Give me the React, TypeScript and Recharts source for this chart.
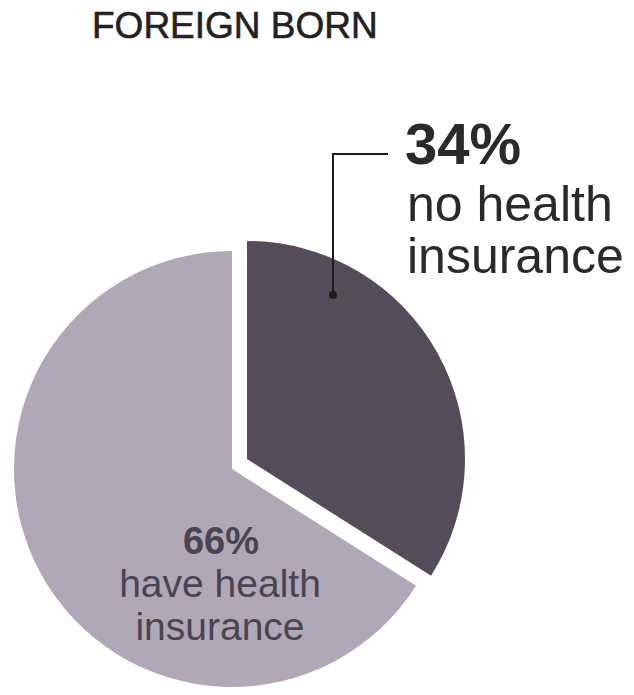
import { PieChart, Pie, Cell } from 'recharts';

// share of foreign born residents by health insurance status
const categories = ['no health insurance', 'have health insurance'];
const shares = [34, 66];
const sliceColors = ['#554c5a', '#b0a8b6'];

const data = categories.map((name, i) => ({ name, value: shares[i] }));

const FONT = '"Liberation Sans", Arial, sans-serif';

export default function App() {
  return (
    <div style={{ position: 'absolute', left: 0, top: 0, width: 634, height: 695, background: '#fff' }}>
      <PieChart width={634} height={695} margin={{ top: 0, right: 0, bottom: 0, left: 0 }}>
        {/* light slice, stays in place */}
        <Pie
          data={data}
          dataKey="value"
          cx={232}
          cy={469}
          outerRadius={218}
          startAngle={90}
          endAngle={-270}
          stroke="none"
          isAnimationActive={false}
        >
          {data.map((d, i) => (
            <Cell key={d.name} fill={i === 1 ? sliceColors[1] : 'transparent'} />
          ))}
        </Pie>
        {/* dark slice, pulled out */}
        <Pie
          data={data}
          dataKey="value"
          cx={247}
          cy={459}
          outerRadius={218}
          startAngle={90}
          endAngle={-270}
          stroke="none"
          isAnimationActive={false}
        >
          {data.map((d, i) => (
            <Cell key={d.name} fill={i === 0 ? sliceColors[0] : 'transparent'} />
          ))}
        </Pie>
      </PieChart>

      {/* annotations sit above the pie */}
      <svg
        width={634}
        height={695}
        style={{ position: 'absolute', left: 0, top: 0, pointerEvents: 'none' }}
      >
        <text x={92} y={38} fontFamily={FONT} fontSize={37} fill="#222" stroke="#222" strokeWidth={0.6}>
          FOREIGN BORN
        </text>

        <path d="M 388 154 H 333 V 295" stroke="#1e1e1e" strokeWidth={2} fill="none" />
        <circle cx={333} cy={295} r={4} fill="#1e1e1e" />

        <text x={405} y={164} fontFamily={FONT} fontSize={58} fontWeight="bold" fill="#2a2a2a">
          {shares[0]}%
        </text>
        <text fontFamily={FONT} fontSize={50} fill="#2a2a2a">
          <tspan x={407} y={221}>no health</tspan>
          <tspan x={407} y={273}>insurance</tspan>
        </text>

        <text textAnchor="middle" fontFamily={FONT} fill="#4a4350">
          <tspan x={221} y={554} fontSize={38} fontWeight="bold">{shares[1]}%</tspan>
          <tspan x={220} y={597} fontSize={39}>have health</tspan>
          <tspan x={220} y={640} fontSize={39}>insurance</tspan>
        </text>
      </svg>
    </div>
  );
}
